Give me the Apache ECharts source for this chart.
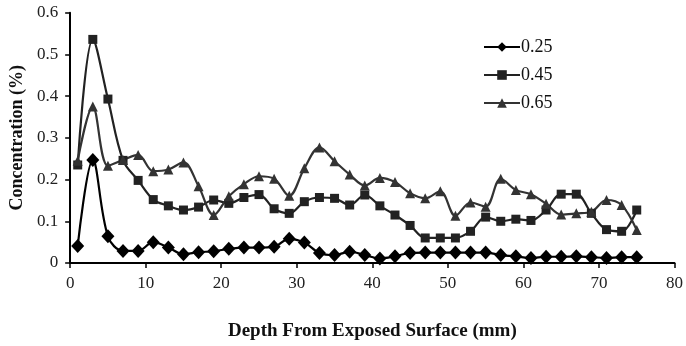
<!DOCTYPE html>
<html>
<head>
<meta charset="utf-8">
<script src="https://cdn.jsdelivr.net/npm/echarts@6/dist/echarts.min.js"></script>
<style>html,body{margin:0;padding:0;background:#fff}#c{width:686px;height:346px}</style>
</head>
<body>
<div id="c"></div>
<script>
const depth = [1,3,5,7,9,11,13,15,17,19,21,23,25,27,29,31,33,35,37,39,41,43,45,47,49,51,53,55,57,59,61,63,65,67,69,71,73,75];
const s025 = [0.041,0.247,0.064,0.029,0.029,0.050,0.037,0.021,0.026,0.028,0.034,0.037,0.037,0.039,0.058,0.049,0.024,0.019,0.027,0.019,0.011,0.016,0.024,0.025,0.025,0.025,0.025,0.025,0.019,0.016,0.012,0.015,0.015,0.016,0.014,0.012,0.014,0.014];
const s045 = [0.235,0.536,0.393,0.246,0.198,0.152,0.137,0.127,0.134,0.151,0.143,0.157,0.164,0.130,0.119,0.147,0.157,0.155,0.139,0.163,0.137,0.115,0.090,0.060,0.060,0.060,0.076,0.110,0.100,0.105,0.102,0.127,0.165,0.165,0.119,0.080,0.076,0.127];
const s065 = [0.245,0.375,0.233,0.247,0.259,0.220,0.224,0.241,0.184,0.115,0.160,0.189,0.208,0.202,0.161,0.227,0.277,0.244,0.212,0.186,0.204,0.194,0.167,0.155,0.172,0.113,0.145,0.135,0.202,0.175,0.165,0.142,0.116,0.119,0.123,0.151,0.139,0.079];
const seriesNames = ['0.25','0.45','0.65'];
const xTitle = 'Depth From Exposed Surface (mm)';
const yTitle = 'Concentration (%)';

const pairs = v => depth.map((d,i)=>[d, v[i]]);
const font = 'Liberation Serif';
const chart = echarts.init(document.getElementById('c'));
const mk = (name, data, symbol, size, color) => ({
  name, type:'line', data: pairs(data), smooth:0.35, symbol, symbolSize:size,
  showAllSymbol:true,
  lineStyle:{color:color,width:2.2}, itemStyle:{color:color},
  emphasis:{disabled:true}
});
chart.setOption({
  animation:false,
  backgroundColor:'#fff',
  textStyle:{fontFamily:font},
  grid:{left:66.5,right:4,top:12.7,bottom:78.7,containLabel:false},
  legend:{
    orient:'vertical', left:478, top:33, itemWidth:36, itemHeight:12, itemGap:10,
    textStyle:{fontFamily:font,fontSize:18,color:'#111',padding:[0,0,0,-4]},
    data:seriesNames
  },
  xAxis:{
    type:'value', min:0, max:80, interval:10,
    name:xTitle, nameLocation:'middle', nameGap:59,
    nameTextStyle:{fontFamily:font,fontSize:19,fontWeight:'bold',color:'#111'},
    axisLine:{lineStyle:{color:'#000',width:2}},
    axisTick:{show:true,length:5,lineStyle:{color:'#000',width:1.5}},
    axisLabel:{fontFamily:font,fontSize:17,color:'#222',margin:12},
    splitLine:{show:false}
  },
  yAxis:{
    type:'value', min:0, max:0.6, interval:0.1,
    name:yTitle, nameLocation:'middle', nameGap:44,
    nameTextStyle:{fontFamily:font,fontSize:18,fontWeight:'bold',color:'#111'},
    axisLine:{show:true,lineStyle:{color:'#000',width:2}},
    axisTick:{show:true,length:5,lineStyle:{color:'#000',width:1.5}},
    axisLabel:{fontFamily:font,fontSize:17,color:'#222',margin:12},
    splitLine:{show:false}
  },
  series:[
    mk(seriesNames[0], s025, 'diamond', [13,14], '#000'),
    mk(seriesNames[1], s045, 'rect', 9, '#222'),
    mk(seriesNames[2], s065, 'triangle', 10, '#333')
  ]
});
</script>
</body>
</html>
